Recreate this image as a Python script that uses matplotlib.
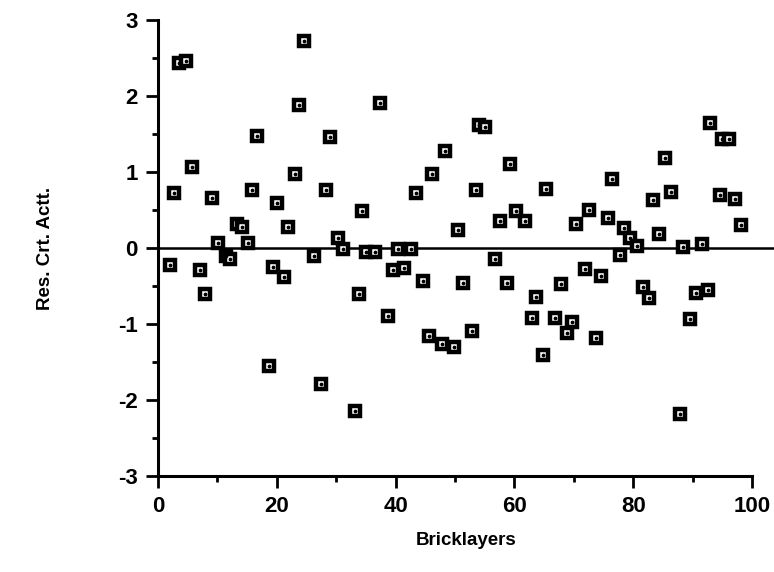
import matplotlib
matplotlib.use("Agg")
import matplotlib.pyplot as plt
from matplotlib.ticker import MultipleLocator

# Residuals of the critical-activity measure per bricklayer
bricklayer = [2.0, 2.65, 3.5, 4.7, 5.8, 7.05, 7.95, 9.1, 10.2, 11.4,
              12.1, 13.25, 14.2, 15.2, 15.9, 16.6, 18.7, 19.3, 20.0, 21.15,
              21.9, 23.1, 23.8, 24.65, 26.2, 27.5, 28.3, 29.0, 30.3, 31.1,
              33.1, 33.8, 34.4, 35.1, 36.5, 37.3, 38.75, 39.6, 40.4, 41.5,
              42.6, 43.4, 44.55, 45.6, 46.1, 47.9, 48.3, 49.8, 50.5, 51.4,
              52.8, 53.5, 54.0, 55.1, 56.8, 57.6, 58.8, 59.2, 60.3, 61.8,
              62.9, 63.7, 64.8, 65.3, 66.9, 67.9, 68.8, 69.7, 70.4, 71.9,
              72.6, 73.8, 74.6, 75.8, 76.5, 77.7, 78.5, 79.4, 80.7, 81.7,
              82.6, 83.3, 84.3, 85.4, 86.4, 87.8, 88.4, 89.5, 90.6, 91.6,
              92.6, 92.9, 94.6, 94.9, 96.2, 97.2, 98.1]
residual = [-0.22, 0.72, 2.43, 2.46, 1.07, -0.29, -0.60, 0.66, 0.06, -0.10,
            -0.15, 0.31, 0.27, 0.07, 0.76, 1.47, -1.55, -0.25, 0.59, -0.38,
            0.27, 0.97, 1.88, 2.73, -0.11, -1.79, 0.76, 1.46, 0.13, -0.01,
            -2.14, -0.60, 0.48, -0.05, -0.05, 1.91, -0.89, -0.29, -0.01, -0.26,
            -0.01, 0.72, -0.43, -1.16, 0.97, -1.27, 1.28, -1.31, 0.24, -0.46,
            -1.09, 0.76, 1.62, 1.59, -0.15, 0.35, -0.46, 1.11, 0.49, 0.35,
            -0.92, -0.64, -1.41, 0.77, -0.92, -0.48, -1.12, -0.98, 0.32, -0.28,
            0.50, -1.18, -0.37, 0.40, 0.91, -0.09, 0.26, 0.13, 0.02, -0.51,
            -0.66, 0.63, 0.19, 1.19, 0.73, -2.19, 0.01, -0.93, -0.59, 0.05,
            -0.55, 1.64, 0.70, 1.44, 1.44, 0.64, 0.30]

x_ticks = [0, 20, 40, 60, 80, 100]
y_ticks = [-3, -2, -1, 0, 1, 2, 3]

plt.rcParams["font.family"] = ["Liberation Sans", "DejaVu Sans"]
plt.rcParams["font.weight"] = "bold"
plt.rcParams["axes.unicode_minus"] = False

fig = plt.figure(figsize=(7.74, 5.72), dpi=100)
ax = fig.add_axes([0.204, 0.168, 0.796, 0.797])

# Zero reference line spanning the whole plot width
ax.axhline(0, color="black", lw=1.8, zorder=1)

ax.plot(bricklayer, residual, linestyle="none", marker="s", ms=7.6,
        mfc="white", mec="black", mew=3.2, zorder=3)
ax.plot(bricklayer, residual, linestyle="none", marker="o", ms=1.7,
        mfc="black", mec="black", zorder=4)

ax.set_xlim(0, 103.7)
ax.set_ylim(-3, 3)
ax.set_xticks(x_ticks)
ax.set_yticks(y_ticks)
ax.xaxis.set_minor_locator(MultipleLocator(10))
ax.yaxis.set_minor_locator(MultipleLocator(0.5))

for side in ("top", "right"):
    ax.spines[side].set_visible(False)
for side in ("left", "bottom"):
    ax.spines[side].set_linewidth(2.2)
ax.spines["bottom"].set_bounds(0, 100)

ax.tick_params(which="major", direction="out", length=8.5, width=2.0,
               labelsize=16, pad=6)
ax.tick_params(which="minor", direction="out", length=4.5, width=2.0)

ax.set_xlabel("Bricklayers", fontsize=13.5, fontweight="bold", labelpad=11)
ax.set_ylabel("Res. Crt. Actt.", fontsize=13.5, fontweight="bold", labelpad=46)

fig.savefig("out.png", dpi=100)
